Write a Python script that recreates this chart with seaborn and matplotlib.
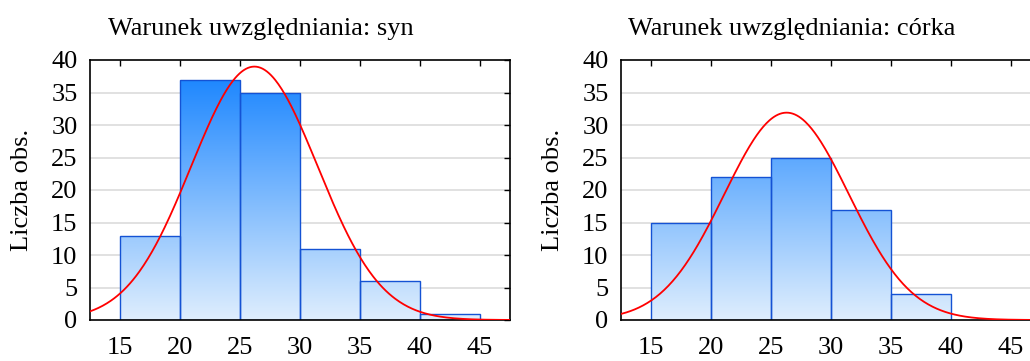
import numpy as np
import matplotlib
matplotlib.use('Agg')
import matplotlib.pyplot as plt
from matplotlib.colors import LinearSegmentedColormap
import seaborn as sns

# histogram data (bins of width 5 starting at 15)
bin_edges = [15, 20, 25, 30, 35, 40, 45]
bin_mids = [17.5, 22.5, 27.5, 32.5, 37.5, 42.5]
counts_syn = [13, 37, 35, 11, 6, 1]
counts_corka = [15, 22, 25, 17, 4, 0]

# fitted normal curve parameters (mean, sd)
fit_syn = (26.2, 5.27)
fit_corka = (26.3, 5.19)

titles = ['Warunek uwzględniania: syn', 'Warunek uwzględniania: córka']
xticks = [15, 20, 25, 30, 35, 40, 45]
yticks = [0, 5, 10, 15, 20, 25, 30, 35, 40]

sns.set_style('white')
plt.rcParams['font.family'] = ['Liberation Serif', 'DejaVu Serif']
plt.rcParams['text.color'] = 'black'

fig = plt.figure(figsize=(10.30, 3.61), dpi=100)
W, H = 1030, 361
# axes boxes in pixels: left, top, right, bottom
boxes = [(90, 60, 510, 320), (621, 60, 1041, 320)]

grad = LinearSegmentedColormap.from_list('grad', ['#dfeefd', '#0f7fff'])

for box, counts, fit, title in zip(boxes, [counts_syn, counts_corka],
                                   [fit_syn, fit_corka], titles):
    l, t, r, b = box
    ax = fig.add_axes([l / W, 1 - b / H, (r - l) / W, (b - t) / H])
    ax.set_xlim(12.5, 47.5)
    ax.set_ylim(0, 40)
    for y in yticks[1:-1]:
        ax.axhline(y, color='#dcdcdc', lw=1.2, zorder=0)

    sns.histplot(x=bin_mids, weights=counts, bins=bin_edges, ax=ax,
                 color='#1a85ff', edgecolor='#1452d4', linewidth=1,
                 alpha=1, zorder=2)
    # gradient fill clipped to each bar
    img = np.linspace(0, 1, 256).reshape(-1, 1)
    for p in ax.patches:
        if p.get_height() <= 0:
            p.set_visible(False)
            continue
        p.set_facecolor('none')
        im = ax.imshow(img, cmap=grad, origin='lower', aspect='auto',
                       extent=[12.5, 47.5, 0, 40], zorder=1)
        im.set_clip_path(p)

    mu, sd = fit
    n = sum(counts)
    xs = np.linspace(12.5, 47.5, 400)
    ys = n * 5 / (sd * np.sqrt(2 * np.pi)) * np.exp(-(xs - mu) ** 2 / (2 * sd ** 2))
    sns.lineplot(x=xs, y=ys, ax=ax, color='#ff0000', lw=1.3, zorder=3)

    ax.set_xlim(12.5, 47.5)
    ax.set_ylim(0, 40)
    ax.set_xticks(xticks)
    ax.set_yticks(yticks)
    ax.tick_params(direction='in', length=4, width=1, top=True, right=True,
                   labelsize=19, colors='black')
    ax.tick_params(axis='x', pad=12)
    ax.tick_params(axis='y', pad=9)
    for s in ax.spines.values():
        s.set_color('black')
        s.set_linewidth(1.2)
    ax.set_xlabel('')
    ax.set_ylabel('Liczba obs.', fontsize=19, labelpad=13, color='black')
    ax.set_title(title, fontsize=19, pad=18, color='black',
                 x=0.5 - 39 / 420)

fig.savefig('out.png', dpi=100)
